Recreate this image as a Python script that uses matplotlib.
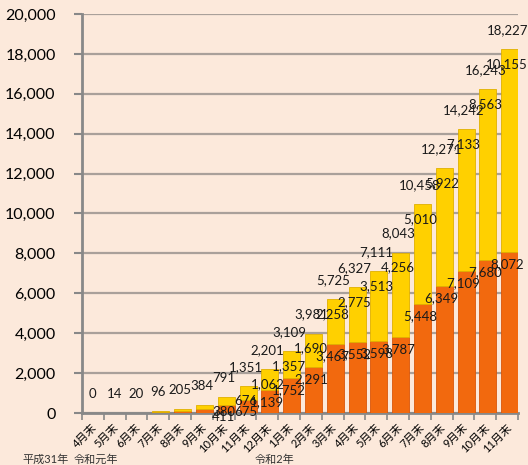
import matplotlib
matplotlib.use("Agg")
import matplotlib.pyplot as plt
import numpy as np
from matplotlib.ticker import FuncFormatter, FixedLocator

plt.rcParams['font.family'] = ['Lato', 'Noto Sans CJK JP', 'DejaVu Sans']

months = ["4月末", "5月末", "6月末", "7月末", "8月末", "9月末", "10月末", "11月末",
          "12月末", "1月末", "2月末", "3月末", "4月末", "5月末", "6月末", "7月末",
          "8月末", "9月末", "10月末", "11月末"]
orange_vals = [0, 10, 14, 60, 120, 220, 411, 675, 1139, 1752, 2291, 3467, 3552,
               3598, 3787, 5448, 6349, 7109, 7680, 8072]
yellow_vals = [0, 4, 6, 36, 85, 164, 380, 676, 1062, 1357, 1690, 2258, 2775,
               3513, 4256, 5010, 5922, 7133, 8563, 10155]
totals = [0, 14, 20, 96, 205, 384, 791, 1351, 2201, 3109, 3981, 5725, 6327,
          7111, 8043, 10458, 12271, 14242, 16243, 18227]
show_split = [False] * 6 + [True] * 14
year_labels = ["平成31年", "令和元年", "令和2年"]

BG = "#FCE9DB"
ORANGE = "#F2690E"
YELLOW = "#FFD000"

fig = plt.figure(figsize=(5.28, 4.65), dpi=100, facecolor=BG)
ax = fig.add_axes([82/528, 1-413/465, (518-82)/528, (413-14)/465])
ax.set_facecolor(BG)

x = np.arange(len(months))
w = 0.78
ax.bar(x + 0.12, orange_vals, width=w, color=ORANGE, edgecolor="#D9560A", linewidth=0.6, zorder=3)
ax.bar(x + 0.12, yellow_vals, width=w, bottom=orange_vals, color=YELLOW,
       edgecolor="#E0B000", linewidth=0.6, zorder=3)

fmt = lambda v: f"{v:,}"
for i in range(len(months)):
    ax.annotate(fmt(totals[i]), (x[i], totals[i]), xytext=(0, 19),
                textcoords="offset pixels", ha="center", va="center",
                fontsize=9.5, color="#1a1a1a", zorder=5)
    if show_split[i]:
        ax.annotate(fmt(orange_vals[i]), (x[i], orange_vals[i]), xytext=(0, -12),
                    textcoords="offset pixels", ha="center", va="center",
                    fontsize=9.5, color="#1a1a1a", zorder=5)
        ax.annotate(fmt(yellow_vals[i]), (x[i], totals[i]), xytext=(0, -15),
                    textcoords="offset pixels", ha="center", va="center",
                    fontsize=9.5, color="#1a1a1a", zorder=5)

ax.set_xlim(-0.5, len(months) - 0.5)
ax.set_ylim(0, 20000)
ax.set_yticks(np.arange(0, 20001, 2000))
ax.yaxis.set_major_formatter(FuncFormatter(lambda v, p: f"{int(v):,}"))
ax.tick_params(axis="y", length=6, width=1.5, color="#888888", labelsize=11.5, pad=13)
ax.grid(axis="y", color="#A9A09A", linewidth=1.6, zorder=1)

ax.set_xticks(x + 0.1)
ax.set_xticklabels(months, rotation=45, ha="right", va="center",
                   rotation_mode="anchor", fontsize=8)
ax.tick_params(axis="x", length=0, pad=9)
ax.xaxis.set_minor_locator(FixedLocator(np.arange(-0.5, len(months), 1.0)))
ax.tick_params(axis="x", which="minor", length=5, width=1.2, color="#888888")

for s in ["top", "right"]:
    ax.spines[s].set_visible(False)
for s in ["left", "bottom"]:
    ax.spines[s].set_color("#888888")
    ax.spines[s].set_linewidth(2)

fig.text(22/528, 1-459/465, year_labels[0], fontsize=8, va="center", ha="left", color="#333333")
fig.text(74/528, 1-459/465, year_labels[1], fontsize=8, va="center", ha="left", color="#333333")
fig.text(255/528, 1-459/465, year_labels[2], fontsize=8, va="center", ha="left", color="#333333")

fig.savefig("out.png", dpi=100, facecolor=BG)
